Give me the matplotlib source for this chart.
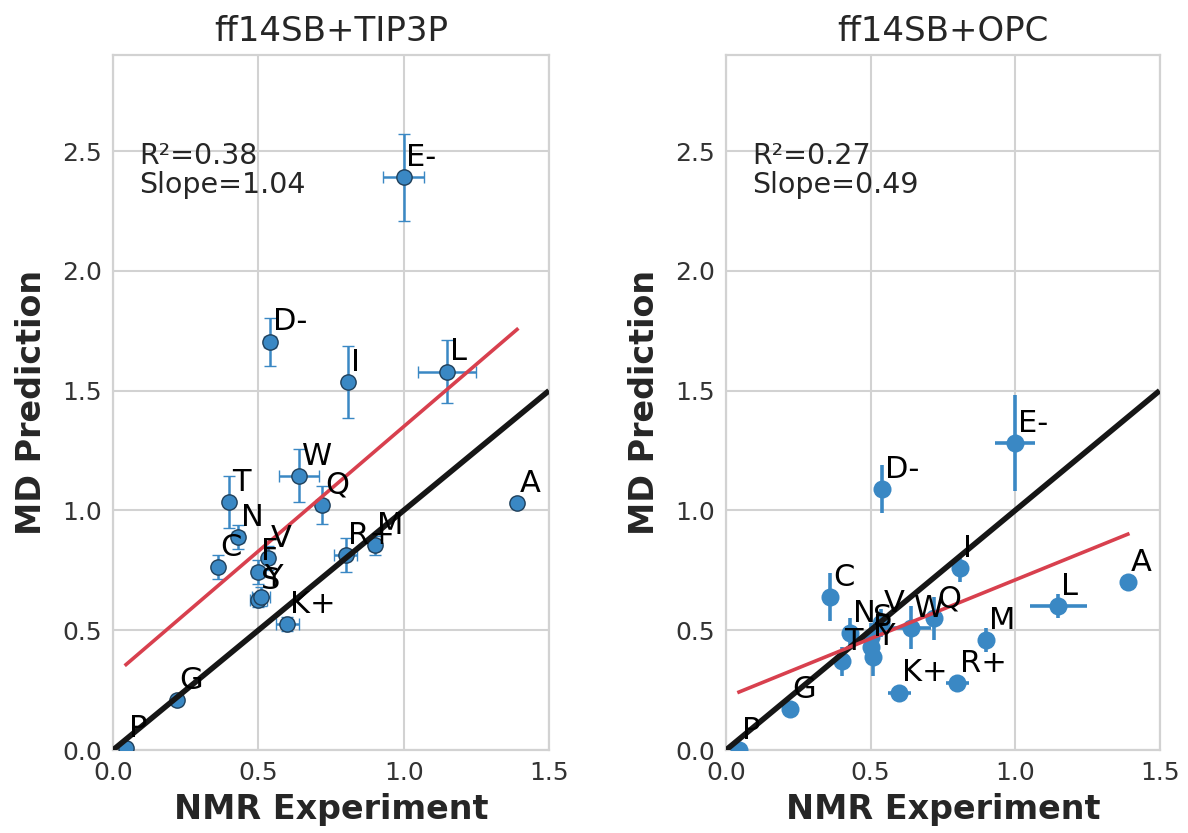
import matplotlib
matplotlib.use("Agg")
import matplotlib.pyplot as plt
import numpy as np

# ---- data ----
residues = ['A', 'C', 'D-', 'E-', 'F', 'G', 'I', 'K+', 'L', 'M',
            'N', 'P', 'Q', 'R+', 'S', 'T', 'V', 'W', 'Y']
nmr = [1.39, 0.36, 0.54, 1.00, 0.50, 0.22, 0.81, 0.60, 1.15, 0.90,
       0.43, 0.045, 0.72, 0.80, 0.50, 0.40, 0.535, 0.64, 0.51]
nmr_err = [0.01, 0.01, 0.02, 0.07, 0.02, 0.01, 0.01, 0.04, 0.10, 0.02,
           0.02, 0.01, 0.02, 0.04, 0.03, 0.01, 0.02, 0.07, 0.03]

tip3p = [1.03, 0.765, 1.705, 2.39, 0.745, 0.21, 1.537, 0.525, 1.58, 0.855,
         0.89, 0.01, 1.023, 0.815, 0.625, 1.035, 0.80, 1.145, 0.64]
tip3p_err = [0.02, 0.05, 0.10, 0.18, 0.05, 0.02, 0.15, 0.03, 0.13, 0.04,
             0.05, 0.02, 0.08, 0.07, 0.03, 0.11, 0.05, 0.11, 0.04]

opc = [0.70, 0.64, 1.09, 1.28, 0.43, 0.17, 0.76, 0.24, 0.60, 0.46,
       0.49, 0.00, 0.55, 0.28, 0.47, 0.37, 0.53, 0.51, 0.39]
opc_err = [0.02, 0.10, 0.10, 0.20, 0.06, 0.02, 0.06, 0.02, 0.05, 0.05,
           0.06, 0.02, 0.09, 0.02, 0.06, 0.06, 0.06, 0.09, 0.08]

titles = ['ff14SB+TIP3P', 'ff14SB+OPC']
r2_values = [0.38, 0.27]
slopes = [1.04, 0.49]
intercepts = [0.31, 0.22]

x_ticks = [0.0, 0.5, 1.0, 1.5]
y_ticks = [0.0, 0.5, 1.0, 1.5, 2.0, 2.5]

# ---- style ----
BLUE = '#3a88c4'
RED = '#d8404e'
GRID = '#d2d2d2'
TXT = '#262626'

plt.rcParams['font.family'] = ['DejaVu Sans']

fig = plt.figure(figsize=(11.88, 8.33), dpi=100)
ax1 = fig.add_axes([0.0951, 0.0996, 0.367, 0.834])
ax2 = fig.add_axes([0.6111, 0.0996, 0.365, 0.834])

datasets = [(tip3p, tip3p_err), (opc, opc_err)]

for i, ax in enumerate([ax1, ax2]):
    y, yerr = datasets[i]
    ax.set_facecolor('white')
    ax.set_xlim(0, 1.5)
    ax.set_ylim(0, 2.9)
    ax.set_xticks(x_ticks)
    ax.set_yticks(y_ticks)
    ax.grid(True, color=GRID, linewidth=1.5)
    ax.set_axisbelow(True)
    for s in ax.spines.values():
        s.set_color(GRID)
        s.set_linewidth(1.6)
    ax.tick_params(length=0, labelsize=18, labelcolor='#333333', pad=8)

    if i == 0:
        ax.errorbar(nmr, y, xerr=nmr_err, yerr=yerr, fmt='o', color=BLUE,
                    ecolor=BLUE, elinewidth=1.8, capsize=4, capthick=1.5,
                    markersize=11, markeredgecolor='#1f3f5a',
                    markeredgewidth=1.0, zorder=3)
    else:
        ax.errorbar(nmr, y, xerr=nmr_err, yerr=yerr, fmt='o', color=BLUE,
                    ecolor=BLUE, elinewidth=2.6, capsize=0,
                    markersize=13, markeredgewidth=0, zorder=3)

    # identity line
    ax.plot([0, 1.5], [0, 1.5], color='#161616', linewidth=4.0,
            solid_capstyle='butt', zorder=4, clip_on=True)
    # fit line
    xf = np.array([min(nmr), max(nmr)])
    ax.plot(xf, slopes[i] * xf + intercepts[i], color=RED, linewidth=2.6,
            zorder=4)

    for lab, xv, yv in zip(residues, nmr, y):
        ax.annotate(lab, (xv, yv), xytext=(2, 8), textcoords='offset points',
                    fontsize=22, color='black', ha='left', va='baseline',
                    zorder=5)

    ax.text(0.09, 2.54, f"R\u00b2={r2_values[i]:.2f}\nSlope={slopes[i]:.2f}",
            fontsize=20.5, color=TXT, ha='left', va='top', linespacing=1.05,
            zorder=5)

    ax.set_title(titles[i], fontsize=24.5, color=TXT, pad=10)
    ax.set_xlabel('NMR Experiment', fontsize=24, fontweight='bold',
                  color=TXT, labelpad=6)
    ax.set_ylabel('MD Prediction', fontsize=24, fontweight='bold',
                  color=TXT, labelpad=10)

fig.savefig('out.png', dpi=100, facecolor='white')
